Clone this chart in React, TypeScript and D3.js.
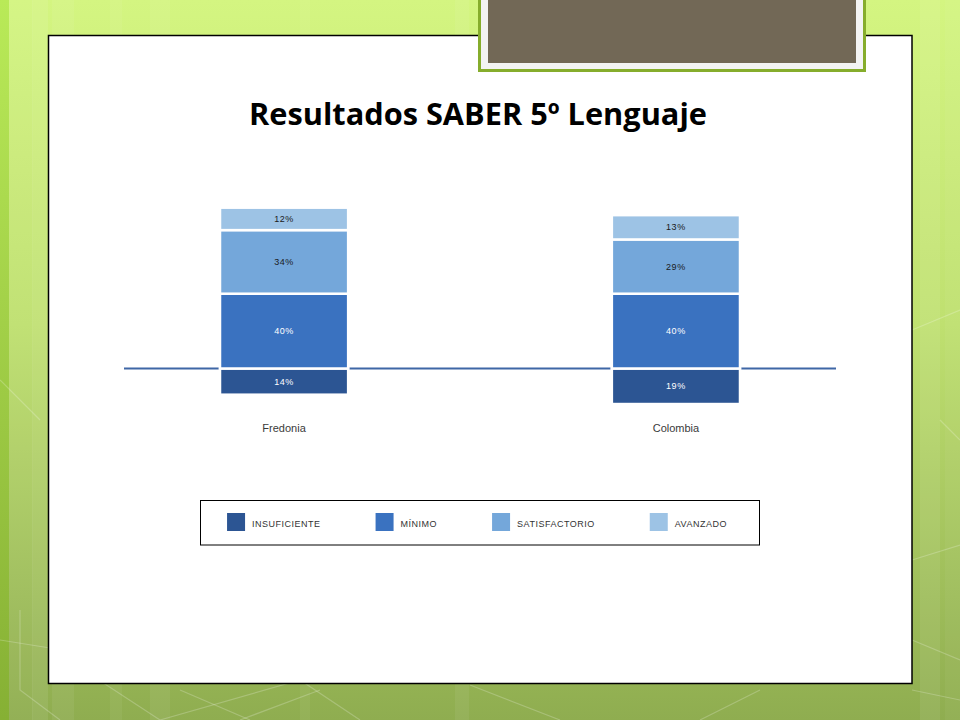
import { useEffect, useRef } from 'react';
import * as d3 from 'd3';

// Data
const categories = ['Fredonia', 'Colombia'];
const levels = ['INSUFICIENTE', 'MÍNIMO', 'SATISFACTORIO', 'AVANZADO'];
const insuficiente = [14, 19];
const minimo = [40, 40];
const satisfactorio = [34, 29];
const avanzado = [12, 13];
const levelColors = ['#2c5593', '#3a72c0', '#74a7da', '#9dc3e5'];
const title = 'Resultados SABER 5º Lenguaje';

export default function App() {
    const svgRef = useRef<SVGSVGElement>(null);

    useEffect(() => {
        if (!svgRef.current) return;
        const svg = d3.select(svgRef.current);
        svg.selectAll('*').remove();

        const W = 960;
        const H = 720;

        // Slide background
        const defs = svg.append('defs');
        const bg = defs.append('linearGradient').attr('id', 'bg').attr('x1', 0).attr('y1', 0).attr('x2', 0).attr('y2', 1);
        bg.append('stop').attr('offset', '0%').attr('stop-color', '#d4f581');
        bg.append('stop').attr('offset', '45%').attr('stop-color', '#bfe070');
        bg.append('stop').attr('offset', '100%').attr('stop-color', '#8fad50');
        const edge = defs.append('linearGradient').attr('id', 'edge').attr('x1', 0).attr('y1', 0).attr('x2', 0).attr('y2', 1);
        edge.append('stop').attr('offset', '0%').attr('stop-color', '#b9ea58');
        edge.append('stop').attr('offset', '100%').attr('stop-color', '#86b034');

        svg.append('rect').attr('width', W).attr('height', H).attr('fill', 'url(#bg)');
        svg.append('rect').attr('width', 9).attr('height', H).attr('fill', 'url(#edge)');

        // soft vertical bands
        const bands = [
            [9, 24, 0.04], [32, 16, 0.08], [52, 22, 0.06], [110, 12, 0.05],
            [150, 20, 0.06], [300, 10, 0.05], [455, 14, 0.06], [920, 20, 0.07], [945, 15, 0.04],
        ];
        svg.append('g').selectAll('rect').data(bands).enter().append('rect')
            .attr('x', d => d[0]).attr('y', 0).attr('width', d => d[1]).attr('height', H)
            .attr('fill', '#ffffff').attr('opacity', d => d[2]);

        // faint geometric lines
        const lines = [
            'M0,640 L50,648 L160,720', 'M20,610 L20,690 L60,720', 'M160,720 L300,680 L360,720',
            'M180,690 L250,720', 'M240,720 L320,690', 'M470,685 L560,720', 'M700,720 L760,690',
            'M912,330 L960,310', 'M912,560 L960,545', 'M912,640 L960,660', 'M912,690 L960,700',
            'M0,380 L40,420', 'M940,420 L960,440',
        ];
        svg.append('g').selectAll('path').data(lines).enter().append('path')
            .attr('d', d => d).attr('fill', 'none').attr('stroke', '#ffffff')
            .attr('stroke-opacity', 0.22).attr('stroke-width', 1.2);

        // White panel
        svg.append('rect')
            .attr('x', 48.5).attr('y', 35.5).attr('width', 863.5).attr('height', 648)
            .attr('fill', '#ffffff').attr('stroke', '#000').attr('stroke-width', 1.5);

        // Top decorative box
        svg.append('rect')
            .attr('x', 479.5).attr('y', -10).attr('width', 385).attr('height', 80.5)
            .attr('fill', '#f3f3f3').attr('stroke', '#86ad2c').attr('stroke-width', 3);
        svg.append('rect')
            .attr('x', 488).attr('y', 0).attr('width', 368).attr('height', 63)
            .attr('fill', '#726856');

        // Title, sized to its width on the slide
        const titleText = svg.append('text')
            .attr('x', 478).attr('y', 125)
            .attr('text-anchor', 'middle')
            .attr('font-family', '"Open Sans", "DejaVu Sans", sans-serif')
            .attr('font-weight', 700)
            .attr('font-size', 30)
            .attr('fill', '#000')
            .text(title);
        const tw = (titleText.node() as SVGTextElement).getComputedTextLength();
        if (tw > 0) titleText.attr('font-size', 30 * 458 / tw);

        // Scales
        const x = d3.scaleBand<string>()
            .domain(categories)
            .range([124, 836])
            .paddingInner(0.673)
            .paddingOuter(0.245);

        const pxPerPct = 1.87;
        const base = 368.5;
        const y = d3.scaleLinear()
            .domain([-30, 100])
            .range([base + 30 * pxPerPct, base - 100 * pxPerPct]);

        // Diverging stack: insuficiente below the line
        const rows = categories.map((c, i) => ({
            cat: c,
            [levels[0]]: -insuficiente[i],
            [levels[1]]: minimo[i],
            [levels[2]]: satisfactorio[i],
            [levels[3]]: avanzado[i],
        }));
        const stacked = d3.stack<any>()
            .keys(levels)
            .offset(d3.stackOffsetDiverging)(rows);

        const color = d3.scaleOrdinal<string, string>().domain(levels).range(levelColors);

        // Baseline
        svg.append('line')
            .attr('x1', 124).attr('x2', 836)
            .attr('y1', y(0)).attr('y2', y(0))
            .attr('stroke', '#3f67a6').attr('stroke-width', 2);

        const layer = svg.append('g').selectAll('g')
            .data(stacked).enter().append('g')
            .attr('fill', d => color(d.key));

        layer.selectAll('rect')
            .data(d => d.map(p => ({ p, key: d.key })))
            .enter().append('rect')
            .attr('x', d => x(d.p.data.cat) as number)
            .attr('width', x.bandwidth())
            .attr('y', d => y(Math.max(d.p[0], d.p[1])))
            .attr('height', d => Math.abs(y(d.p[0]) - y(d.p[1])))
            .attr('stroke', '#ffffff')
            .attr('stroke-width', 2.5);

        layer.selectAll('text')
            .data(d => d.map(p => ({ p, key: d.key })))
            .enter().append('text')
            .attr('x', d => (x(d.p.data.cat) as number) + x.bandwidth() / 2)
            .attr('y', d => (y(d.p[0]) + y(d.p[1])) / 2)
            .attr('dy', '0.35em')
            .attr('text-anchor', 'middle')
            .attr('font-family', '"Liberation Sans", Arial, sans-serif')
            .attr('font-size', 9)
            .attr('letter-spacing', 0.6)
            .attr('fill', d => (d.key === levels[0] || d.key === levels[1]) ? '#ffffff' : '#1a1a1a')
            .text(d => `${Math.abs(d.p[1] - d.p[0])}%`);

        // Category labels
        svg.append('g').selectAll('text')
            .data(categories).enter().append('text')
            .attr('x', d => (x(d) as number) + x.bandwidth() / 2)
            .attr('y', 432)
            .attr('text-anchor', 'middle')
            .attr('font-family', '"Liberation Sans", Arial, sans-serif')
            .attr('font-size', 11)
            .attr('fill', '#3a3a3a')
            .text(d => d);

        // Legend
        const lg = svg.append('g');
        lg.append('rect')
            .attr('x', 200.5).attr('y', 500.5).attr('width', 559).attr('height', 44.5)
            .attr('fill', '#ffffff').attr('stroke', '#000').attr('stroke-width', 1);

        const items = lg.append('g');
        let cursor = 0;
        levels.forEach((lvl, i) => {
            const it = items.append('g').attr('transform', `translate(${cursor},0)`);
            it.append('rect')
                .attr('x', 0).attr('y', 513).attr('width', 18).attr('height', 18)
                .attr('fill', levelColors[i]);
            const t = it.append('text')
                .attr('x', 25).attr('y', 526.5)
                .attr('font-family', '"Liberation Sans", Arial, sans-serif')
                .attr('font-size', 9)
                .attr('letter-spacing', 0.5)
                .attr('fill', '#333')
                .text(lvl);
            const len = (t.node() as SVGTextElement).getComputedTextLength();
            cursor += 25 + len + (i < levels.length - 1 ? 55 : 0);
        });
        const startX = 477 - cursor / 2;
        items.attr('transform', `translate(${startX},0)`);
    }, []);

    return (
        <svg
            ref={svgRef}
            width={960}
            height={720}
            style={{ position: 'absolute', left: 0, top: 0, display: 'block' }}
        />
    );
}
